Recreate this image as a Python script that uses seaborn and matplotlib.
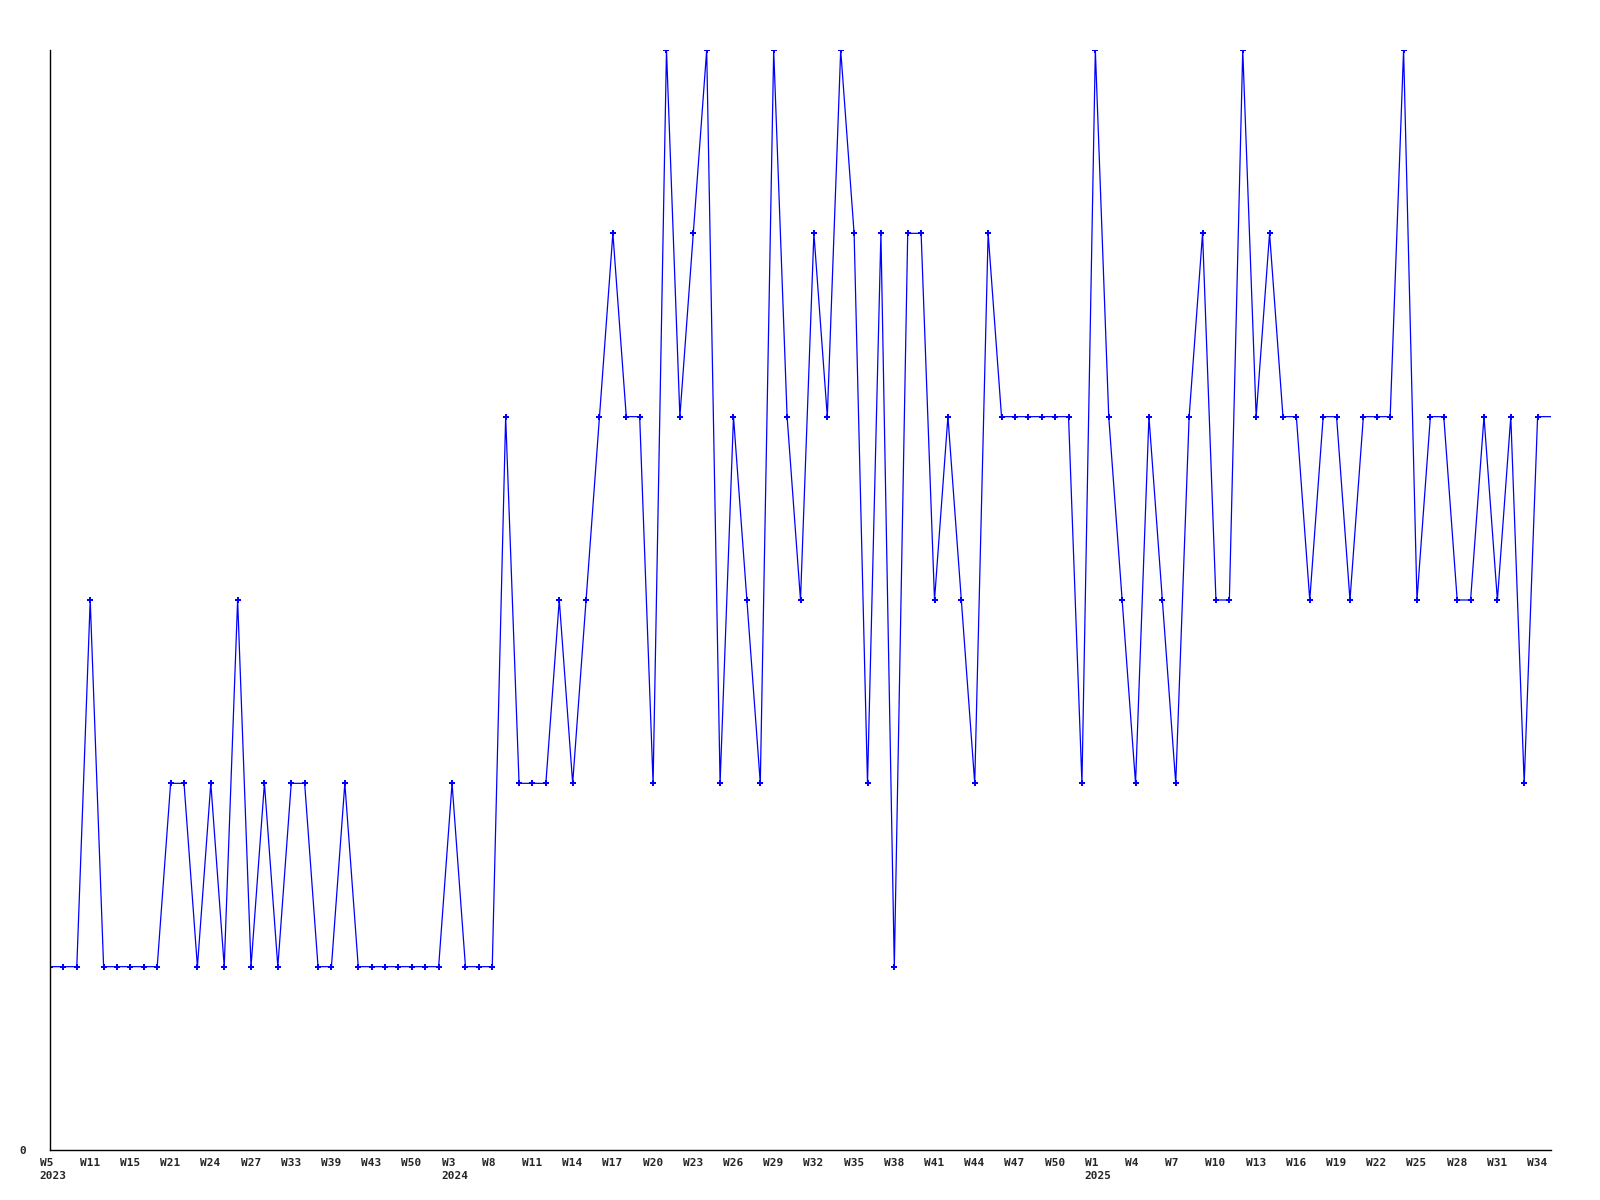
import matplotlib
matplotlib.use("Agg")
import matplotlib.pyplot as plt
import seaborn as sns
import pandas as pd

# --- data -------------------------------------------------------------
values = [
    1, 1, 1, 3, 1, 1, 1, 1, 1, 2, 2, 1, 2, 1, 3, 1, 2, 1, 2, 2,
    1, 1, 2, 1, 1, 1, 1, 1, 1, 1, 2, 1, 1, 1, 4, 2, 2, 2, 3, 2,
    3, 4, 5, 4, 4, 2, 6, 4, 5, 6, 2, 4, 3, 2, 6, 4, 3, 5, 4, 6,
    5, 2, 5, 1, 5, 5, 3, 4, 3, 2, 5, 4, 4, 4, 4, 4, 4, 2, 6, 4,
    3, 2, 4, 3, 2, 4, 5, 3, 3, 6, 4, 5, 4, 4, 3, 4, 4, 3, 4, 4,
    4, 6, 3, 4, 4, 3, 3, 4, 3, 4, 2, 4, 4,
]
week_labels = [
    "W5", "W11", "W15", "W21", "W24", "W27", "W33", "W39", "W43", "W50",
    "W3", "W8", "W11", "W14", "W17", "W20", "W23", "W26", "W29", "W32",
    "W35", "W38", "W41", "W44", "W47", "W50",
    "W1", "W4", "W7", "W10", "W13", "W16", "W19", "W22", "W25", "W28",
    "W31", "W34",
]
year_marks = {0: "2023", 10: "2024", 26: "2025"}
label_step = 3

df = pd.DataFrame({"idx": range(len(values)), "value": values})

# --- figure -----------------------------------------------------------
sns.set_theme(style="white")
plt.rcParams["font.family"] = ["DejaVu Sans Mono", "DejaVu Sans"]

fig = plt.figure(figsize=(16, 12), dpi=100)
ax = fig.add_axes([50 / 1600, 1 - 1150 / 1200, 1501 / 1600, 1100 / 1200])

sns.lineplot(
    data=df, x="idx", y="value", ax=ax, sort=False,
    color="#0000ff", linewidth=0.9,
    marker="P", markersize=4.0, markeredgewidth=0,
    markevery=list(range(len(values) - 1)),
)

ax.set_xlim(0, len(values) - 1)
ax.set_ylim(0, 6)

# x labels (week + optional year), left-aligned slightly before each slot
ax.set_xticks([])
for k, w in enumerate(week_labels):
    txt = w + ("\n" + year_marks[k] if k in year_marks else "")
    ax.annotate(
        txt, xy=(k * label_step, 0), xycoords=("data", "axes fraction"),
        xytext=(-10.5, -8), textcoords="offset pixels",
        ha="left", va="top", fontsize=8, fontweight="bold",
        linespacing=1.35, annotation_clip=False,
    )

ax.set_yticks([0])
ax.set_yticklabels(["0"], fontsize=8, fontweight="bold")
ax.tick_params(axis="y", length=0, pad=17)

ax.set_xlabel("")
ax.set_ylabel("")
for side in ("top", "right"):
    ax.spines[side].set_visible(False)
for side in ("left", "bottom"):
    ax.spines[side].set_color("black")
    ax.spines[side].set_linewidth(1.0)
ax.grid(False)
ax.set_facecolor("white")
fig.patch.set_facecolor("white")

fig.savefig("out.png", dpi=100)
